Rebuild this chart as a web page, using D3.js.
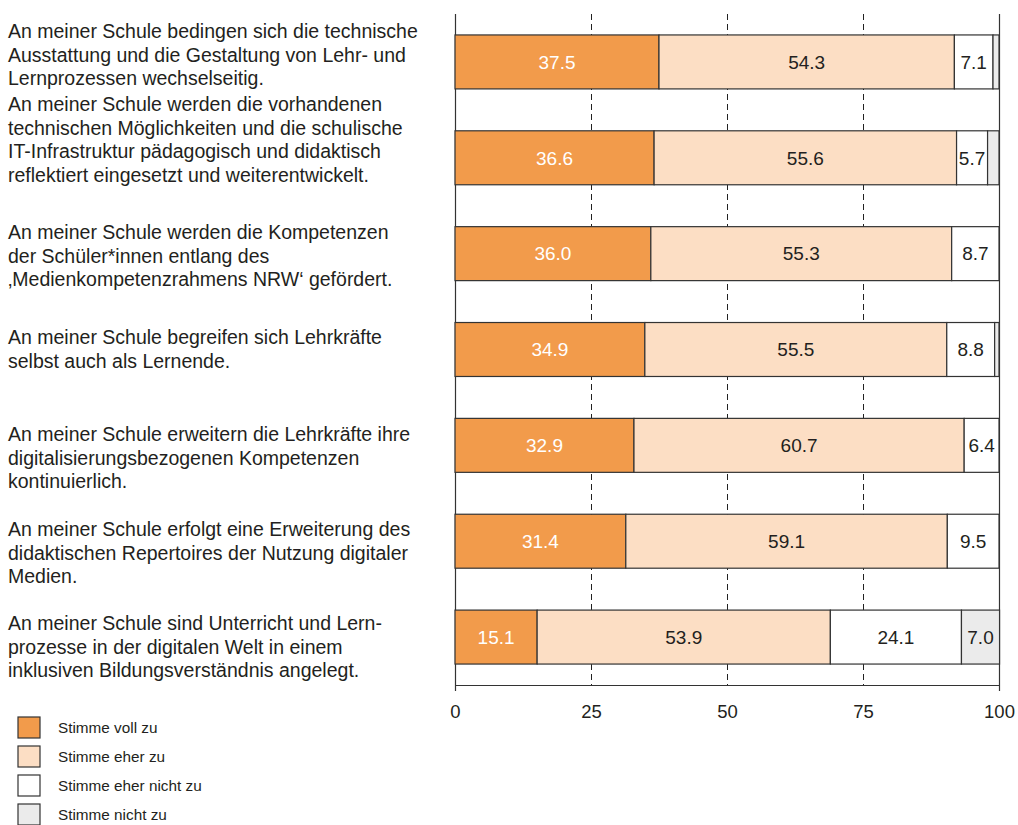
<!DOCTYPE html>
<html>
<head>
<meta charset="utf-8">
<script src="https://cdn.jsdelivr.net/npm/d3@7"></script>
<style>
  html, body { margin: 0; padding: 0; background: #fff; }
  svg { display: block; font-family: "Liberation Sans", Arial, sans-serif; }
</style>
</head>
<body>
<svg id="chart" width="1018" height="825"></svg>
<script>
// Statements (each split into its printed lines)
const statements = [
  ["An meiner Schule bedingen sich die technische", "Ausstattung und die Gestaltung von Lehr- und", "Lernprozessen wechselseitig."],
  ["An meiner Schule werden die vorhandenen", "technischen Möglichkeiten und die schulische", "IT-Infrastruktur pädagogisch und didaktisch", "reflektiert eingesetzt und weiterentwickelt."],
  ["An meiner Schule werden die Kompetenzen", "der Schüler*innen entlang des", "‚Medienkompetenzrahmens NRW‘ gefördert."],
  ["An meiner Schule begreifen sich Lehrkräfte", "selbst auch als Lernende."],
  ["An meiner Schule erweitern die Lehrkräfte ihre", "digitalisierungsbezogenen Kompetenzen", "kontinuierlich."],
  ["An meiner Schule erfolgt eine Erweiterung des", "didaktischen Repertoires der Nutzung digitaler", "Medien."],
  ["An meiner Schule sind Unterricht und Lern-", "prozesse in der digitalen Welt in einem", "inklusiven Bildungsverständnis angelegt."]
];

// Answer categories and shares in percent
const answerCategories = ["Stimme voll zu", "Stimme eher zu", "Stimme eher nicht zu", "Stimme nicht zu"];
const stimmeVollZu      = [37.5, 36.6, 36.0, 34.9, 32.9, 31.4, 15.1];
const stimmeEherZu      = [54.3, 55.6, 55.3, 55.5, 60.7, 59.1, 53.9];
const stimmeEherNichtZu = [7.1, 5.7, 8.7, 8.8, 6.4, 9.5, 24.1];
const stimmeNichtZu     = [1.1, 2.1, 0.0, 0.8, 0.0, 0.0, 7.0];

const axisTicks = [0, 25, 50, 75, 100];

// Vertical position of each statement's first text line
const labelFirstBaseline = [38, 111, 239, 344, 441, 536, 630];

const colors = ["#f29b4b", "#fcdec4", "#ffffff", "#ebebeb"];
const textColor = "#231f20";
const strokeColor = "#333333";

const svg = d3.select("#chart");

const x = d3.scaleLinear().domain([0, 100]).range([455, 999]);
const y = d3.scaleBand()
  .domain(d3.range(statements.length))
  .range([14, 685])
  .paddingInner(0.437)
  .paddingOuter(0.2185);

// Table of rows for stacking
const rows = statements.map((s, i) => ({
  i,
  [answerCategories[0]]: stimmeVollZu[i],
  [answerCategories[1]]: stimmeEherZu[i],
  [answerCategories[2]]: stimmeEherNichtZu[i],
  [answerCategories[3]]: stimmeNichtZu[i]
}));
const series = d3.stack().keys(answerCategories)(rows);

// Dashed reference lines
svg.append("g")
  .selectAll("line")
  .data(axisTicks.filter(t => t > 0 && t < 100))
  .join("line")
  .attr("x1", d => Math.round(x(d)) + 0.5)
  .attr("x2", d => Math.round(x(d)) + 0.5)
  .attr("y1", 14)
  .attr("y2", 685)
  .attr("stroke", "#222")
  .attr("stroke-width", 1)
  .attr("stroke-dasharray", "6,4");

// Frame sides
svg.append("g")
  .selectAll("line")
  .data([0, 100])
  .join("line")
  .attr("x1", d => Math.round(x(d)) + 0.5)
  .attr("x2", d => Math.round(x(d)) + 0.5)
  .attr("y1", 14)
  .attr("y2", 685)
  .attr("stroke", strokeColor)
  .attr("stroke-width", 1.2);

// Stacked bars
const layers = svg.append("g")
  .selectAll("g")
  .data(series)
  .join("g")
  .attr("fill", (d, k) => colors[k]);

layers.selectAll("rect")
  .data(d => d.filter(p => p[1] - p[0] > 0))
  .join("rect")
  .attr("x", p => x(p[0]))
  .attr("width", p => x(p[1]) - x(p[0]))
  .attr("y", p => y(p.data.i))
  .attr("height", y.bandwidth())
  .attr("stroke", strokeColor)
  .attr("stroke-width", 1.2);

// Value labels inside segments
layers.each(function(s, k) {
  d3.select(this).selectAll("text")
    .data(s.filter(p => p[1] - p[0] >= 5))
    .join("text")
    .attr("x", p => (x(p[0]) + x(p[1])) / 2)
    .attr("y", p => y(p.data.i) + y.bandwidth() / 2)
    .attr("dy", "0.36em")
    .attr("text-anchor", "middle")
    .attr("font-size", 19)
    .attr("fill", k === 0 ? "#ffffff" : textColor)
    .text(p => (p[1] - p[0]).toFixed(1));
});

// Bottom axis
const axis = svg.append("g")
  .attr("transform", "translate(0,685)")
  .call(d3.axisBottom(x).tickValues(axisTicks).tickSize(0).tickSizeOuter(6).tickPadding(20));
axis.select(".domain").attr("stroke", strokeColor).attr("stroke-width", 1.2);
axis.selectAll(".tick text")
  .attr("font-size", 18.5)
  .attr("font-family", "Liberation Sans, Arial, sans-serif")
  .attr("fill", textColor);

// Statement labels
const labels = svg.append("g")
  .selectAll("text")
  .data(statements)
  .join("text")
  .attr("x", 8)
  .attr("y", (d, i) => labelFirstBaseline[i])
  .attr("font-size", 19.5)
  .attr("fill", textColor);
labels.selectAll("tspan")
  .data(d => d)
  .join("tspan")
  .attr("x", 8)
  .attr("dy", (d, j) => j === 0 ? 0 : 23.6)
  .text(d => d);

// Legend
const legend = svg.append("g")
  .selectAll("g")
  .data(answerCategories)
  .join("g")
  .attr("transform", (d, k) => `translate(18,${717 + k * 29})`);
legend.append("rect")
  .attr("width", 22)
  .attr("height", 21)
  .attr("fill", (d, k) => colors[k])
  .attr("stroke", strokeColor)
  .attr("stroke-width", 1.2);
legend.append("text")
  .attr("x", 40)
  .attr("y", 10.5)
  .attr("dy", "0.36em")
  .attr("font-size", 15.3)
  .attr("fill", textColor)
  .text(d => d);
</script>
</body>
</html>
